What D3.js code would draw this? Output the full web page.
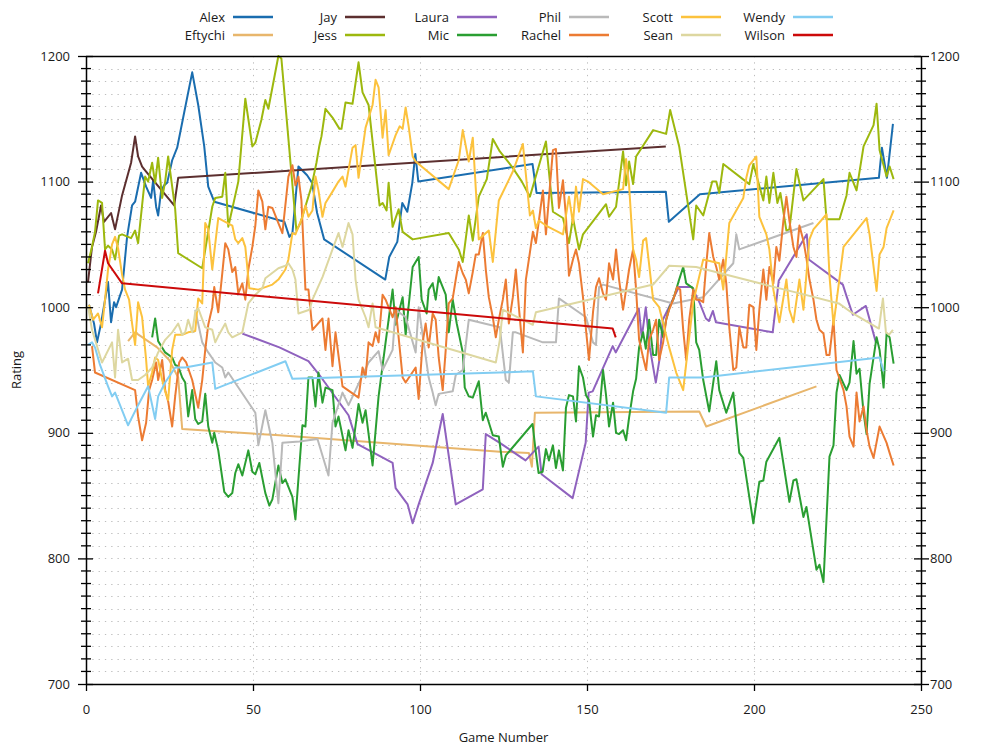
<!DOCTYPE html>
<html><head><meta charset="utf-8">
<script src="https://cdn.jsdelivr.net/npm/d3@7"></script>
<style>
body{margin:0;background:#fff}
svg{display:block}
text{font-family:"Open Sans","Noto Sans",sans-serif;fill:#1a1a1a}
</style>
</head><body>
<svg id="chart" width="1000" height="750"></svg>
<script>
// ---------- data ----------
const names = ["Alex","Eftychi","Jay","Jess","Laura","Mic","Phil","Rachel","Scott","Sean","Wendy","Wilson"];
const colors = ["#1a6daf","#e8b66c","#5c2f2f","#9db80e","#8f62be","#2a9e32","#b9b9b9","#ec7b33","#fcc23d","#ddd7a0","#82cdf2","#cc0a0a"];
const xTicks = [0,50,100,150,200,250];
const yTicks = [700,800,900,1000,1100,1200];

const alex = [[0.9,1002],[2.4,987],[3.3,972],[4.5,987],[6.6,1020],[7.5,988],[8.4,1004],[9,1000],[9.9,1007],[10.8,1014],[12.3,1056],[13.8,1081],[14.7,1084],[16.5,1107],[18,1096],[19.5,1087],[20.1,1101],[21,1080],[21.6,1073],[22.5,1093],[23.4,1097],[24.3,1099],[25.8,1117],[27.3,1127],[29.1,1151],[31.8,1187],[33.6,1161],[35.4,1128],[36.6,1096],[38.4,1084],[59.4,1068],[60.9,1056],[61.8,1059],[63.6,1112],[66.2,1105],[67.7,1099],[69.2,1075],[71.3,1054],[89.6,1022],[90.8,1040],[93.2,1052],[94.7,1083],[96.2,1076],[97.7,1099],[98.6,1122],[99.5,1100],[133.7,1114],[134.9,1091],[173.6,1092],[174.5,1068],[183.8,1090],[237.4,1103],[238.3,1127],[239.8,1103],[241.6,1146]];
const eftychi = [[12.6,973],[14.7,980],[21.3,968],[24.9,958],[27.6,944],[28.8,903],[57.9,898],[123.9,885],[132.6,884],[133.5,873],[134.4,916],[183.6,917],[185.7,905],[218.7,937]];
const jay = [[0.6,1020],[1.8,1048],[3,1060],[4.5,1081],[5.4,1068],[7.5,1075],[8.7,1062],[10.8,1089],[13.5,1115],[14.7,1136],[15.6,1120],[16.8,1112],[18,1108],[26.4,1081],[27.6,1103],[173.6,1128]];
const jess = [[0.6,1035],[1.8,1048],[2.7,1060],[3.6,1085],[4.8,1083],[5.7,1046],[6.6,1049],[7.8,1046],[8.7,1038],[9.9,1057],[10.8,1058],[13.5,1055],[14.7,1061],[15.6,1051],[17.7,1104],[18.6,1100],[19.8,1115],[20.7,1099],[21.6,1119],[22.8,1087],[23.7,1100],[24.6,1120],[26.7,1078],[27.6,1043],[34.8,1031],[37.8,1080],[38.7,1087],[40.8,1088],[41.7,1107],[42.6,1064],[45.6,1100],[47.7,1166],[49.8,1128],[50.7,1131],[52.5,1149],[53.7,1165],[54.6,1158],[57.6,1200],[58.5,1198],[63,1061],[64.2,1067],[66,1083],[67.5,1096],[69,1115],[69.9,1129],[70.5,1136],[71.7,1158],[73.8,1151],[75.9,1142],[76.5,1142],[77.7,1163],[79.8,1162],[81.6,1195],[82.8,1171],[84.6,1161],[87.9,1081],[88.8,1083],[90,1077],[90.6,1099],[91.8,1064],[93.6,1078],[94.8,1060],[97.8,1054],[108.6,1059],[111.6,1046],[112.8,1036],[114.6,1073],[115.8,1053],[117.6,1088],[120,1102],[121.8,1134],[123.9,1124],[127.5,1112],[130.5,1100],[132.9,1088],[137.7,1132],[139.8,1076],[142.8,1071],[144.6,1051],[145.8,1071],[147.6,1046],[148.8,1058],[155.7,1082],[156.6,1072],[158.7,1080],[160.8,1124],[161.7,1097],[162.6,1116],[163.8,1098],[164.7,1120],[169.8,1141],[173.7,1138],[174.9,1157],[177.6,1128],[181.8,1054],[182.7,1081],[184.8,1073],[187.5,1100],[188.7,1100],[189.6,1091],[190.8,1114],[198.6,1098],[199.8,1114],[202.8,1085],[203.7,1104],[204.6,1083],[205.8,1107],[207,1083],[207.9,1091],[209.7,1061],[210.6,1062],[212.7,1110],[214.8,1085],[220.8,1102],[221.7,1070],[225.6,1070],[227.7,1089],[228.6,1107],[230.7,1093],[232.8,1128],[235.8,1145],[236.7,1162],[237.6,1125],[238.8,1113],[239.7,1104],[240.6,1112],[241.8,1102]];
const laura = [[46.8,979],[57.9,968],[66.6,957],[69.9,946],[78.6,914],[81.3,891],[91.8,876],[92.7,856],[96.3,843],[97.8,828],[99.6,843],[103.8,876],[106.8,915],[110.7,843],[118.8,855],[119.7,899],[123.9,892],[131.6,878],[135.5,889],[136.4,867],[145.7,848],[149.6,892],[150.5,932],[151.7,933],[157.7,969],[158.6,964],[165.5,999],[166.4,976],[167.6,1000],[168.8,968],[170.6,940],[171.8,960],[172.7,990],[177.5,1016],[181.4,1016],[183.8,1003],[185.6,991],[186.5,989],[187.7,997],[188.6,988],[205.6,980],[207.4,1021],[215.8,1058],[216.4,1038],[226.6,1018],[227.8,1008],[229.6,994],[233.5,1001],[236.5,972]];
const mic = [[19.8,976],[20.7,991],[21.6,973],[23.7,964],[25.8,960],[26.7,954],[27.6,953],[28.8,944],[29.7,940],[30.6,913],[31.8,934],[32.7,911],[33.6,907],[34.8,909],[35.7,931],[36.6,905],[37.8,892],[38.4,900],[39.6,886],[41.4,853],[42.6,849],[43.8,852],[44.7,868],[45.6,875],[46.8,866],[48.6,886],[49.8,869],[50.7,867],[51.9,876],[53.7,852],[54.9,842],[55.8,847],[57.6,874],[58.8,860],[59.7,863],[61.8,849],[62.7,831],[64.8,906],[65.7,905],[66.6,944],[67.8,944],[68.7,921],[69.6,948],[70.8,924],[71.7,936],[73.8,934],[74.7,905],[75.6,913],[77.7,886],[78.6,902],[79.8,888],[81.6,923],[82.8,908],[83.7,918],[85.8,874],[87.6,929],[89.7,972],[91.8,1014],[92.7,986],[94.8,1008],[95.7,978],[97.8,1032],[99.6,1040],[100.5,1006],[102,995],[102.6,1014],[103.8,1019],[104.7,1006],[105.6,1024],[107.7,1010],[108.6,980],[109.8,1006],[111,987],[112.8,964],[113.4,936],[114.6,929],[115.8,928],[117.6,941],[118.8,910],[119.7,916],[121.8,898],[123.6,897],[124.8,873],[125.7,882],[133.7,907],[134.6,886],[135.5,868],[136.7,869],[137.7,887],[138.6,878],[139.8,890],[140.7,872],[141.6,886],[142.8,870],[143.7,920],[144.6,930],[145.8,929],[146.7,909],[147.6,953],[148.8,944],[149.7,930],[150.6,926],[151.8,897],[152.7,914],[153.6,913],[154.8,950],[155.7,930],[156.6,905],[157.8,924],[158.7,900],[159.6,899],[160.8,902],[161.7,894],[162.6,912],[163.8,933],[164.7,943],[165.6,968],[166.8,980],[167.6,967],[168.6,990],[169.8,962],[170.7,962],[171.6,990],[172.8,976],[173.7,990],[174.6,999],[175.8,1006],[177.6,1022],[178.8,1032],[179.7,1019],[181.8,1015],[182.7,972],[183.6,966],[184.8,942],[186.6,917],[188.7,957],[189.6,934],[191.7,916],[193.8,932],[195.6,884],[196.8,880],[199.8,828],[201.6,861],[202.8,862],[203.7,877],[207.6,896],[210.6,845],[211.8,862],[212.7,863],[214.8,833],[215.7,841],[218.7,791],[219.6,795],[220.8,781],[222.6,881],[223.8,890],[224.7,932],[225.6,946],[227.7,934],[228.6,940],[229.8,973],[230.7,947],[231.6,951],[232.8,916],[233.7,899],[234.6,939],[236.7,976],[237.6,966],[238.8,936],[239.7,979],[240.6,976],[241.8,955]];
const phil = [[32.7,998],[34.8,972],[36.6,964],[38.7,956],[40.8,952],[41.7,944],[42.6,948],[50.7,916],[51.6,890],[53.7,918],[55.8,892],[57.6,844],[58.8,892],[63.9,893],[69.3,895],[72.6,866],[73.8,908],[76.8,932],[78.6,922],[81.6,939],[84.6,956],[87.6,965],[88.8,950],[91.8,966],[92.7,998],[95.7,992],[98.7,964],[99.6,1000],[102.6,944],[103.8,932],[104.7,922],[105.6,931],[109.8,933],[110.7,946],[112.8,950],[114.6,990],[123.9,984],[125.7,942],[126.6,940],[127.8,980],[128.7,980],[136.8,972],[140.7,972],[141.6,1007],[149.7,992],[151.8,972],[152.7,970],[153.6,1016],[154.8,1018],[175.8,1003],[184.8,1008],[193.8,1035],[194.7,1058],[195.6,1046],[217.8,1067]];
const rachel = [[1.8,969],[2.7,948],[14.7,934],[15.6,913],[16.8,894],[18,908],[18.9,934],[19.8,942],[21,956],[21.6,942],[22.8,958],[23.7,934],[24.6,925],[25.8,905],[26.7,929],[27.9,956],[28.8,960],[30,956],[31.8,942],[33.6,920],[34.8,942],[35.7,966],[36.6,986],[37.8,1000],[38.4,1016],[39.6,996],[40.8,1027],[41.7,1051],[42.6,1046],[43.8,1028],[44.7,1032],[45.6,1011],[46.8,1019],[47.7,1006],[48.6,1030],[49.8,1048],[50.7,1065],[51.6,1093],[52.8,1084],[53.7,1062],[54.6,1080],[55.8,1079],[57.3,1069],[58.8,1059],[60.6,1104],[61.8,1113],[62.7,1097],[63.6,1104],[64.5,1085],[65.7,1014],[66.6,1014],[67.8,982],[70.8,991],[71.7,966],[72.6,991],[73.8,953],[74.7,980],[76.8,937],[81.6,928],[82.8,952],[83.7,944],[84.6,972],[85.8,969],[86.7,980],[87.6,972],[88.8,1010],[89.7,1006],[91.8,992],[92.7,1000],[94.8,944],[95.7,940],[98.7,952],[99.6,927],[100.8,972],[101.7,987],[102.6,968],[103.8,995],[104.7,990],[105.6,960],[106.8,934],[107.7,966],[108.6,1003],[109.8,1007],[110.7,1022],[111.6,1036],[112.8,1027],[113.7,1022],[114.6,1011],[115.8,1028],[116.7,1042],[117.6,1042],[118.8,1059],[119.7,1030],[120.6,1008],[121.8,992],[122.7,976],[123.6,990],[124.8,1006],[125.7,1022],[126.6,987],[127.8,1008],[128.7,1030],[129.6,1000],[130.8,964],[131.7,1022],[132.6,1038],[133.8,1060],[134.7,1051],[136.8,1093],[137.7,1058],[139.8,1125],[140.7,1126],[141.6,1079],[142.8,1101],[143.7,1072],[144.6,1025],[145.8,1038],[146.7,1046],[147.6,1035],[148.8,1008],[149.7,982],[150.6,958],[151.8,996],[152.7,1016],[153.6,1023],[154.8,1011],[155.7,1006],[156.6,1035],[157.8,1022],[158.7,1046],[159.6,1022],[160.8,998],[161.7,1014],[162.6,1030],[163.8,1046],[164.7,1014],[165.6,974],[166.8,960],[167.7,950],[168.6,974],[169.8,982],[170.7,990],[171.6,958],[172.8,972],[173.7,990],[174.6,998],[175.8,1006],[177,1016],[177.9,1014],[178.8,982],[179.7,958],[180.6,990],[181.8,1014],[182.7,1006],[183.6,1006],[184.8,1004],[185.7,1034],[186.6,1059],[187.8,1040],[188.7,1032],[189.6,1022],[190.8,1038],[191.7,1019],[192.6,984],[193.8,950],[194.7,952],[195.6,984],[196.8,968],[197.7,968],[198.6,1002],[199.8,1000],[200.7,966],[201.6,998],[202.8,1030],[203.7,1006],[204.6,1032],[205.8,1019],[206.7,1048],[207.6,1037],[208.8,1069],[209.7,1088],[210.6,1069],[211.8,1048],[212.7,1040],[213.6,1065],[214.8,1053],[215.7,1039],[216.6,1022],[217.8,1006],[218.7,990],[219.6,982],[220.8,979],[221.7,962],[222.6,962],[223.8,990],[224.7,950],[226.8,934],[227.7,921],[228.6,897],[229.8,889],[230.7,932],[231.6,909],[232.8,921],[233.7,902],[234.6,889],[235.8,880],[237.6,905],[239.7,892],[240.6,884],[241.8,874]];
const scott = [[0.9,1002],[2.1,990],[3.6,995],[4.8,984],[5.7,1006],[6.6,1030],[7.8,1050],[8.7,1056],[9.6,1047],[10.8,1026],[11.7,1014],[12.9,1006],[13.8,987],[14.7,970],[15.6,1004],[16.8,992],[18,958],[18.6,937],[19.8,948],[20.7,960],[21.6,958],[22.8,942],[23.7,933],[24.6,926],[25.8,966],[26.7,978],[28.8,978],[30.6,980],[32.7,981],[33.6,1007],[34.8,1003],[35.7,1067],[36.6,1062],[37.8,1030],[39.6,1071],[43.8,1065],[44.7,1054],[45.6,1051],[46.8,1055],[47.7,1048],[48.9,1015],[51.6,1014],[55.8,1018],[57.6,1022],[59.7,1030],[60.6,1038],[61.8,1059],[62.7,1058],[64.8,1072],[65.7,1081],[66.6,1072],[67.8,1077],[68.7,1104],[69.6,1093],[70.8,1072],[71.7,1083],[73.8,1092],[75.6,1100],[76.8,1104],[77.7,1096],[79.8,1127],[80.7,1129],[81.6,1103],[83.7,1143],[85.8,1161],[86.7,1181],[87.6,1175],[88.8,1135],[89.7,1157],[90.6,1121],[92.7,1137],[93.9,1144],[94.8,1142],[95.7,1159],[96.6,1144],[97.8,1120],[98.7,1116],[108.6,1094],[111.6,1117],[112.8,1141],[114.6,1116],[115.8,1135],[117.6,1054],[120.6,1061],[121.8,1036],[123.6,1085],[127.8,1108],[130.8,1130],[132.9,1073],[133.8,1077],[134.7,1063],[135.6,1069],[137.7,1065],[142.8,1058],[144.6,1088],[145.8,1067],[146.7,1096],[147.6,1076],[148.8,1102],[150.3,1100],[154.8,1090],[160.8,1094],[161.7,1118],[162.6,1097],[163.8,1046],[164.7,1038],[165.6,1024],[166.8,1053],[167.7,1055],[169.8,1006],[171.6,1000],[174.6,968],[176.7,948],[178.8,934],[181.8,1004],[184.8,1038],[189.6,1035],[190.8,1014],[192.6,1067],[196.8,1087],[197.7,1103],[198.6,1113],[200.7,1120],[201.6,1072],[203.7,1058],[204.6,1046],[205.8,1014],[207.6,988],[209.7,1022],[210.6,998],[211.8,988],[213.6,1022],[214.8,998],[216.6,1054],[217.8,1062],[221.7,1074],[222.6,1025],[223.8,986],[226.8,1048],[233.7,1071],[234.6,1058],[236.7,1013],[237.6,1042],[238.8,1048],[239.7,1063],[241.8,1077]];
const sean = [[0.6,1001],[1.8,982],[4.8,956],[7.8,972],[8.7,944],[9.6,982],[10.8,956],[12.6,959],[13.8,942],[15.6,942],[17.7,946],[19.8,952],[21.6,964],[23.7,974],[25.8,980],[27.6,987],[28.8,978],[29.7,980],[30.6,990],[31.8,980],[32.7,996],[33.6,999],[35.7,984],[37.8,982],[38.7,972],[39.6,977],[41.7,987],[42.6,980],[43.8,976],[46.8,980],[48.6,1003],[50.7,1010],[52.8,1015],[53.7,1023],[57.6,1031],[59.7,1033],[60.6,1035],[61.8,1030],[62.7,1022],[63.6,995],[66.9,998],[67.8,1006],[70.8,1024],[73.8,1046],[75.6,1059],[76.8,1048],[78.6,1067],[79.8,1058],[80.7,1022],[81.6,1006],[83.7,992],[84.6,984],[85.8,1003],[86.7,984],[122.7,956],[123.9,974],[124.8,998],[133.8,986],[134.7,996],[169.8,1018],[174.6,1033],[182.7,1032],[201.7,1019],[213.7,1011],[225.4,1003],[229.6,995],[237.4,983],[238.6,1007],[239.5,980],[240.4,978],[241.6,982]];
const wendy = [[0.6,970],[1.8,972],[2.7,968],[4.2,954],[6.6,937],[7.8,929],[8.7,932],[12.6,906],[15.6,922],[18.6,937],[20.7,911],[21.6,929],[23.7,940],[26.7,952],[29.7,952],[37.8,956],[38.7,935],[59.7,957],[61.8,943],[123.9,948],[133.8,949],[134.7,929],[173.7,916],[174.6,944],[184.8,944],[237.6,960],[238.8,949]];
const wilson = [[3.6,1011],[5.7,1045],[6.6,1035],[10.8,1019],[157.7,983],[158.6,976]];

const series = [alex,eftychi,jay,jess,laura,mic,phil,rachel,scott,sean,wendy,wilson];

// ---------- layout ----------
const W = 1000, H = 750;
const M = {l:86, r:79, t:56, b:66};
const svg = d3.select("#chart");
const x = d3.scaleLinear().domain([0,250]).range([M.l, W-M.r]);
const y = d3.scaleLinear().domain([700,1200]).range([H-M.b, M.t]);

// grid
const grid = svg.append("g").attr("stroke","#bdbdbd").attr("stroke-width",1).attr("stroke-dasharray","1.3,5");
grid.selectAll(".hg").data(d3.range(710,1200,10)).join("line")
  .attr("x1",M.l).attr("x2",W-M.r).attr("y1",d=>Math.round(y(d))+0.5).attr("y2",d=>Math.round(y(d))+0.5);
grid.selectAll(".vg").data(xTicks.slice(1,-1)).join("line")
  .attr("y1",M.t).attr("y2",H-M.b).attr("x1",d=>Math.round(x(d))+0.5).attr("x2",d=>Math.round(x(d))+0.5);

// series lines
const line = d3.line().x(d=>x(d[0])).y(d=>y(d[1]));
const plot = svg.append("g");
series.forEach((s,i)=>{
  plot.append("path").datum(s).attr("d",line).attr("fill","none")
    .attr("stroke",colors[i]).attr("stroke-width",2).attr("stroke-linejoin","round");
});

// frame
svg.append("line").attr("x1",M.l).attr("x2",W-M.r).attr("y1",M.t+0.5).attr("y2",M.t+0.5).attr("stroke","#000").attr("stroke-width",1.5);

// minor ticks (every 10)
const minor = d3.range(710,1200,10).filter(v=>v%100!==0);
const mt = svg.append("g").attr("stroke","#000").attr("stroke-width",1.3);
mt.selectAll(".ml").data(minor).join("line").attr("x1",M.l-5).attr("x2",M.l+5).attr("y1",d=>y(d)).attr("y2",d=>y(d));
mt.selectAll(".mr").data(minor).join("line").attr("x1",W-M.r-5).attr("x2",W-M.r+5).attr("y1",d=>y(d)).attr("y2",d=>y(d));

// axes
const font = "13px";
const fmt = d3.format("d");
const axL = svg.append("g").attr("transform",`translate(${M.l},0)`)
  .call(d3.axisLeft(y).tickValues(yTicks).tickFormat(fmt).tickSize(8).tickSizeOuter(0).tickPadding(8));
axL.selectAll(".tick line").attr("x1",7);
const axR = svg.append("g").attr("transform",`translate(${W-M.r},0)`)
  .call(d3.axisRight(y).tickValues(yTicks).tickFormat(fmt).tickSize(8).tickSizeOuter(0).tickPadding(1));
axR.selectAll(".tick line").attr("x1",-7);
const axB = svg.append("g").attr("transform",`translate(0,${H-M.b})`)
  .call(d3.axisBottom(x).tickValues(xTicks).tickFormat(fmt).tickSize(7).tickSizeOuter(0).tickPadding(14));
[axL,axR,axB].forEach(a=>{
  a.select(".domain").attr("stroke","#000").attr("stroke-width",1.5);
  a.selectAll(".tick line").attr("stroke","#000").attr("stroke-width",1.3);
  a.selectAll(".tick text").attr("font-size",font).attr("font-family","Open Sans, Noto Sans, sans-serif").attr("fill","#1a1a1a");
});

// axis titles
svg.append("text").attr("x",(M.l+W-M.r)/2).attr("y",742).attr("text-anchor","middle").attr("font-size",font).text("Game Number");
svg.append("text").attr("transform",`translate(21,${(M.t+H-M.b)/2}) rotate(-90)`).attr("text-anchor","middle").attr("font-size",font).text("Rating");

// legend
const leg = svg.append("g");
names.forEach((n,i)=>{
  const col = Math.floor(i/2), row = i%2;
  const sx = 233 + col*112, sy = 17 + row*18;
  leg.append("line").attr("x1",sx).attr("x2",sx+40).attr("y1",sy).attr("y2",sy)
    .attr("stroke",colors[i]).attr("stroke-width",2.5);
  leg.append("text").attr("x",sx-8).attr("y",sy).attr("dy","0.35em").attr("text-anchor","end").attr("font-size",font).text(n);
});
</script>
</body></html>
